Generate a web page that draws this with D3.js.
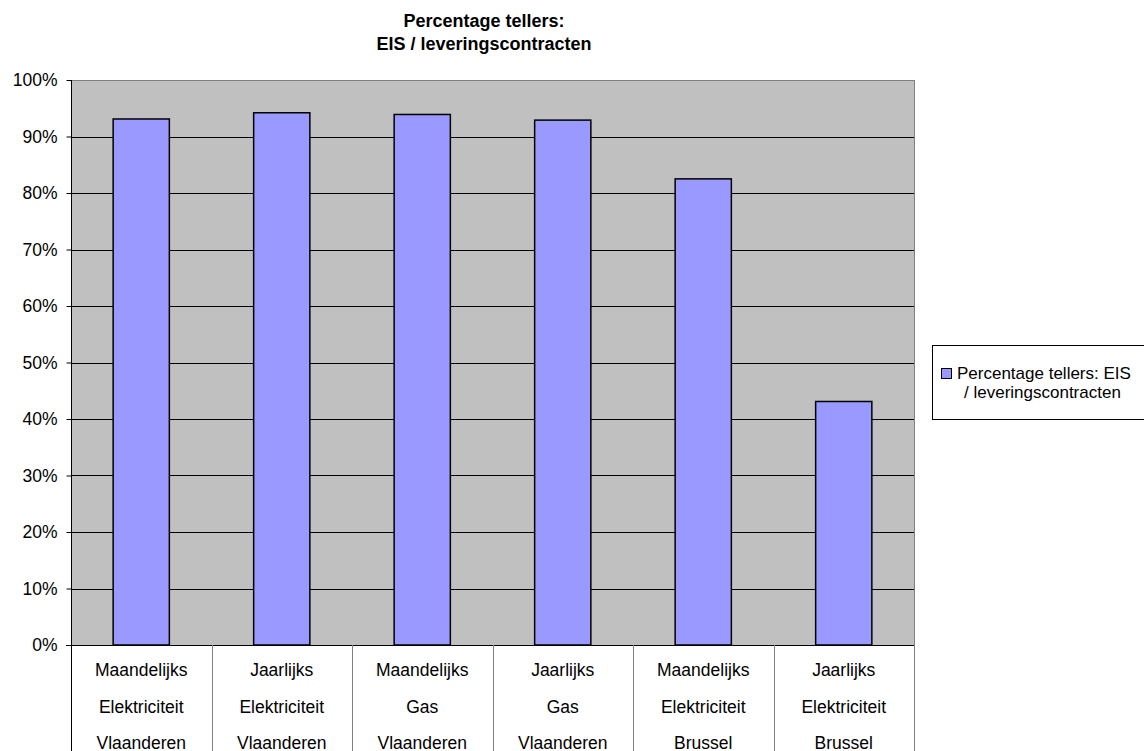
<!DOCTYPE html>
<html>
<head>
<meta charset="utf-8">
<script src="https://cdn.jsdelivr.net/npm/d3@7"></script>
<style>
  body { margin: 0; background: #fff; }
  text { font-family: "Liberation Sans", Arial, sans-serif; fill: #000; }
</style>
</head>
<body>
<div id="chart"></div>
<script>
// data
const categories = [
  ["Maandelijks", "Elektriciteit", "Vlaanderen"],
  ["Jaarlijks", "Elektriciteit", "Vlaanderen"],
  ["Maandelijks", "Gas", "Vlaanderen"],
  ["Jaarlijks", "Gas", "Vlaanderen"],
  ["Maandelijks", "Elektriciteit", "Brussel"],
  ["Jaarlijks", "Elektriciteit", "Brussel"]
];
const values = [0.931, 0.942, 0.939, 0.929, 0.825, 0.431];
const yTicks = [0, 0.1, 0.2, 0.3, 0.4, 0.5, 0.6, 0.7, 0.8, 0.9, 1.0];
const titleLines = ["Percentage tellers:", "EIS / leveringscontracten"];
const legendLines = ["Percentage tellers: EIS", "/ leveringscontracten"];

const width = 1144;
const height = 751;
const plotLeft = 71, plotRight = 914, plotTop = 80, plotBottom = 645;

const svg = d3
  .select("#chart")
  .append("svg")
  .attr("width", width)
  .attr("height", height);

const xScale = d3
  .scaleBand()
  .domain(d3.range(categories.length))
  .range([plotLeft, plotRight])
  .paddingInner(0)
  .paddingOuter(0);

const yScale = d3.scaleLinear().domain([0, 1]).range([plotBottom, plotTop]);

// plot background
svg
  .append("rect")
  .attr("x", plotLeft + 0.5)
  .attr("y", plotTop + 0.5)
  .attr("width", plotRight - plotLeft)
  .attr("height", plotBottom - plotTop)
  .attr("fill", "#c0c0c0")
  .attr("stroke", "#808080")
  .attr("stroke-width", 1);

// gridlines
svg
  .append("g")
  .selectAll("line")
  .data(yTicks.slice(1, -1))
  .enter()
  .append("line")
  .attr("x1", plotLeft)
  .attr("x2", plotRight)
  .attr("y1", (d) => Math.round(yScale(d)) + 0.5)
  .attr("y2", (d) => Math.round(yScale(d)) + 0.5)
  .attr("stroke", "#000")
  .attr("stroke-width", 1);

// bars
const barW = xScale.bandwidth() * 0.4;
svg
  .append("g")
  .selectAll("rect")
  .data(values)
  .enter()
  .append("rect")
  .attr("x", (d, i) => xScale(i) + (xScale.bandwidth() - barW) / 2)
  .attr("y", (d) => yScale(d))
  .attr("width", barW)
  .attr("height", (d) => plotBottom - yScale(d))
  .attr("fill", "#9999ff")
  .attr("stroke", "#000")
  .attr("stroke-width", 1.5);

// y axis
const yAxis = d3
  .axisLeft(yScale)
  .tickValues(yTicks)
  .tickFormat(d3.format(".0%"))
  .tickSize(5)
  .tickPadding(9);
const gy = svg
  .append("g")
  .attr("transform", "translate(" + (plotLeft + 0.5) + ",0)")
  .call(yAxis);
gy.select(".domain").attr("d", "M0," + plotTop + "V" + plotBottom).attr("stroke", "#000");
gy.selectAll("text")
  .style("font-size", "17.5px")
  .style("font-family", '"Liberation Sans", Arial, sans-serif')
  .attr("fill", "#000");
gy.selectAll(".tick line").attr("stroke", "#000");

// x axis line
svg
  .append("line")
  .attr("x1", plotLeft - 5)
  .attr("x2", plotRight)
  .attr("y1", plotBottom + 0.5)
  .attr("y2", plotBottom + 0.5)
  .attr("stroke", "#000");

// category separators
svg
  .append("g")
  .selectAll("line")
  .data(d3.range(categories.length + 1))
  .enter()
  .append("line")
  .attr("x1", (i) => Math.round(i < categories.length ? xScale(i) : plotRight) + 0.5)
  .attr("x2", (i) => Math.round(i < categories.length ? xScale(i) : plotRight) + 0.5)
  .attr("y1", plotBottom)
  .attr("y2", height)
  .attr("stroke", (i) => (i === 0 ? "#000" : "#808080"));

// category labels
const catG = svg
  .append("g")
  .selectAll("text")
  .data(categories)
  .enter()
  .append("text")
  .attr("text-anchor", "middle")
  .style("font-size", "17.5px");
catG
  .selectAll("tspan")
  .data((d, i) => d.map((t) => ({ t: t, i: i })))
  .enter()
  .append("tspan")
  .attr("x", (d) => xScale(d.i) + xScale.bandwidth() / 2)
  .attr("y", (d, j) => 676 + j * 36.5)
  .text((d) => d.t);

// title
svg
  .append("text")
  .attr("text-anchor", "middle")
  .style("font-size", "18px")
  .style("font-weight", "bold")
  .selectAll("tspan")
  .data(titleLines)
  .enter()
  .append("tspan")
  .attr("x", 484)
  .attr("y", (d, i) => 27 + i * 23)
  .text((d) => d);

// legend
const legend = svg.append("g");
legend
  .append("rect")
  .attr("x", 932.5)
  .attr("y", 345.5)
  .attr("width", 230)
  .attr("height", 74)
  .attr("fill", "#fff")
  .attr("stroke", "#000");
legend
  .append("rect")
  .attr("x", 941.5)
  .attr("y", 368.5)
  .attr("width", 10)
  .attr("height", 10)
  .attr("fill", "#9999ff")
  .attr("stroke", "#000");
legend
  .append("text")
  .style("font-size", "17px")
  .selectAll("tspan")
  .data(legendLines)
  .enter()
  .append("tspan")
  .attr("x", (d, i) => (i === 0 ? 957 : 964))
  .attr("y", (d, i) => 379 + i * 19)
  .text((d) => d);
</script>
</body>
</html>
